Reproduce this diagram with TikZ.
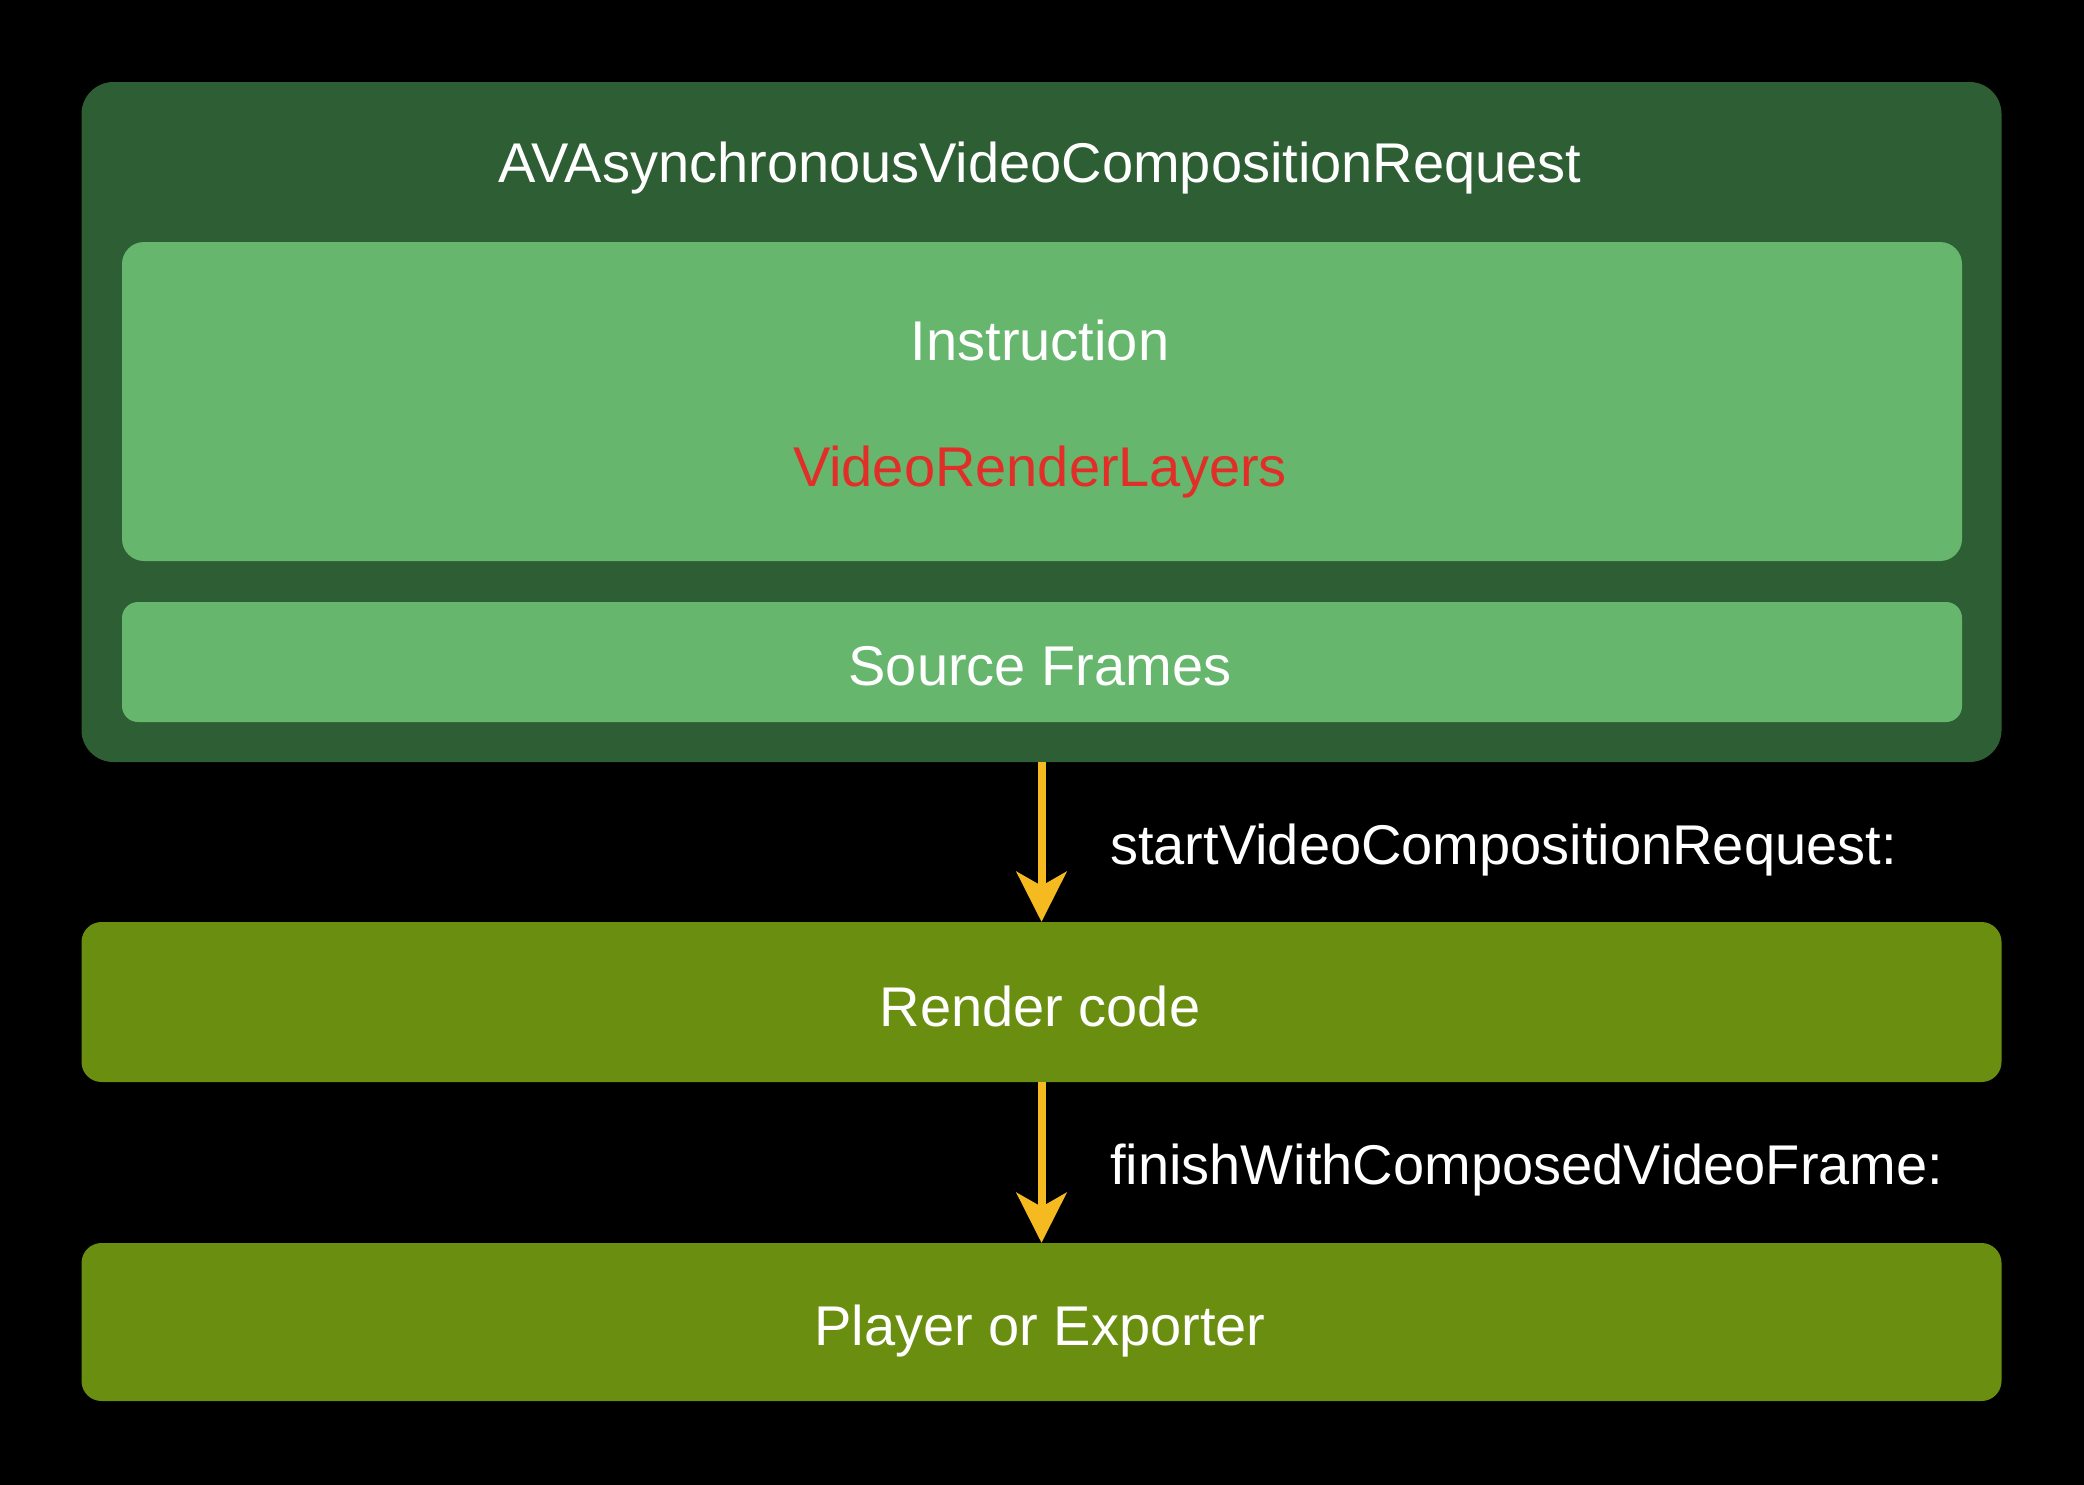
\documentclass[tikz,border=0pt]{standalone}
\usepackage{fontspec}
\setmainfont{Liberation Sans}
\usetikzlibrary{arrows.meta}
\definecolor{darkgrn}{RGB}{46,94,51}
\definecolor{lightgrn}{RGB}{102,183,109}
\definecolor{olive}{RGB}{106,142,16}
\definecolor{arrowyel}{RGB}{244,186,32}
\definecolor{redtxt}{RGB}{226,46,40}
\tikzset{
  box/.style={draw=none, rounded corners=#1, inner sep=0pt},
  lbl/.style={text=white, inner sep=0pt, font=\fontsize{56}{64}\selectfont},
  flow/.style={draw=arrowyel, line width=8pt, -{Stealth[length=50pt, width=50pt, inset=14pt]}}
}
\begin{document}
\begin{tikzpicture}[x=1pt, y=-1pt]
\useasboundingbox (0,0) rectangle (2084,1484);
\fill[black] (-6,-6) rectangle (2090,1490);
\node[box=32pt, fill=darkgrn, minimum width=1920pt, minimum height=680pt] (outer) at (1041.5,422) {};
\node[box=22pt, fill=lightgrn, minimum width=1840pt, minimum height=319pt] (instr) at (1042,401.5) {};
\node[box=16pt, fill=lightgrn, minimum width=1840pt, minimum height=120pt] (src) at (1042,662) {};
\node[box=20pt, fill=olive, minimum width=1920pt, minimum height=160pt] (render) at (1041.5,1002) {};
\node[box=20pt, fill=olive, minimum width=1920pt, minimum height=158pt] (player) at (1041.5,1322) {};
\node[lbl] (title) at (1040,168) {AVAsynchronousVideoCompositionRequest};
\node[lbl] (instrtxt) at (1040,340) {Instruction};
\node[lbl, text=redtxt] (layers) at (1040,472) {VideoRenderLayers};
\node[lbl] (srctxt) at (1040,666) {Source Frames};
\node[lbl] (rendertxt) at (1040,1006) {Render code};
\node[lbl] (playertxt) at (1040,1331) {Player or Exporter};
\draw[flow] (outer.south) -- (render.north);
\draw[flow] (render.south) -- (player.north);
\node[lbl, anchor=west] (startlbl) at (1110,850) {startVideoCompositionRequest:};
\node[lbl, anchor=west] (finishlbl) at (1110,1170) {finishWithComposedVideoFrame:};
\end{tikzpicture}
\end{document}
